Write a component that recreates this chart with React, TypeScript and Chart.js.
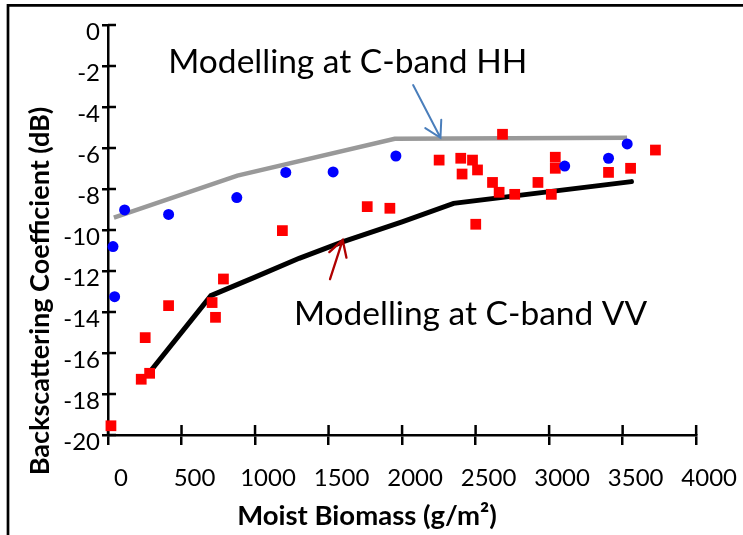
import React, { useEffect, useRef } from "react";
import { Chart, registerables } from "chart.js";
Chart.register(...registerables);

// Observed backscatter, C-band HH (blue dots)
const hhObsX = [34, 45, 113, 412, 876, 1209, 1531, 1958, 3106, 3404, 3531];
const hhObsY = [-10.81, -13.25, -9.02, -9.24, -8.42, -7.19, -7.17, -6.39, -6.88, -6.5, -5.8];

// Observed backscatter, C-band VV (red squares)
const vvObsX = [20, 226, 253, 283, 412, 708, 731, 785, 1186, 1763, 1917, 2252, 2399, 2408, 2479, 2501, 2513, 2615, 2660, 2683, 2766, 2924, 3015, 3042, 3042, 3404, 3554, 3723];
const vvObsY = [-19.55, -17.28, -15.25, -16.99, -13.69, -13.54, -14.26, -12.39, -10.03, -8.86, -8.94, -6.59, -6.5, -7.27, -6.59, -9.72, -7.07, -7.68, -8.16, -5.33, -8.26, -7.68, -8.26, -6.45, -6.99, -7.19, -6.99, -6.1];

// Model curves
const hhModelX = [40, 880, 1950, 3530];
const hhModelY = [-9.4, -7.35, -5.55, -5.5];
const vvModelX = [276, 700, 1000, 1300, 1600, 2000, 2350, 3560];
const vvModelY = [-17.0, -13.2, -12.3, -11.38, -10.57, -9.6, -8.7, -7.64];

// Tick values
const xTicks = [0, 500, 1000, 1500, 2000, 2500, 3000, 3500, 4000];
const yTicks = [0, -2, -4, -6, -8, -10, -12, -14, -16, -18, -20];

// Text
const hhLabel = "Modelling at C-band HH";
const vvLabel = "Modelling at C-band VV";
const xTitle = "Moist Biomass (g/m²)";
const yTitle = "Backscattering Coefficient (dB)";

// Annotation anchors (data coordinates)
const hhLabelAt = { x: 410, y: -2.36 };
const vvLabelAt = { x: 1265, y: -14.63 };
const hhArrow = { fromX: 2075, fromY: -2.93, toX: 2261, toY: -5.5 };
const vvArrow = { fromX: 1510, fromY: -12.4, toX: 1596, toY: -10.49 };

const FONT = "Lato, 'Open Sans', sans-serif";

function zip(xs: number[], ys: number[]) {
  return xs.map((x, i) => ({ x, y: ys[i] }));
}

const decorPlugin = {
  id: "decor",
  beforeDraw(chart: any) {
    const ctx = chart.ctx;
    ctx.save();
    ctx.fillStyle = "#fff";
    ctx.fillRect(0, 0, chart.width, chart.height);
    ctx.strokeStyle = "#000";
    ctx.lineWidth = 2.7;
    ctx.beginPath();
    ctx.moveTo(8, chart.height + 2);
    ctx.lineTo(8, 5.3);
    ctx.lineTo(chart.width + 2, 5.3);
    ctx.stroke();
    ctx.restore();
  },
  beforeDatasetsDraw(chart: any) {
    // inner half of the crossing tick marks
    const ctx = chart.ctx;
    const xs = chart.scales.x;
    const ys = chart.scales.y;
    const area = chart.chartArea;
    ctx.save();
    ctx.strokeStyle = "#000";
    ctx.lineWidth = 2.5;
    ctx.beginPath();
    xs.ticks.forEach((t: any) => {
      const px = xs.getPixelForValue(t.value);
      ctx.moveTo(px, area.bottom);
      ctx.lineTo(px, area.bottom - 10);
    });
    ys.ticks.forEach((t: any) => {
      const py = ys.getPixelForValue(t.value);
      ctx.moveTo(area.left, py);
      ctx.lineTo(area.left + 8, py);
    });
    ctx.stroke();
    ctx.restore();
  },
  afterDraw(chart: any) {
    const ctx = chart.ctx;
    const xs = chart.scales.x;
    const ys = chart.scales.y;
    ctx.save();
    // annotation labels
    ctx.fillStyle = "#000";
    ctx.font = `33.5px ${FONT}`;
    ctx.textAlign = "left";
    ctx.textBaseline = "alphabetic";
    ctx.fillText(hhLabel, xs.getPixelForValue(hhLabelAt.x), ys.getPixelForValue(hhLabelAt.y));
    ctx.fillText(vvLabel, xs.getPixelForValue(vvLabelAt.x), ys.getPixelForValue(vvLabelAt.y));

    const drawArrow = (a: any, color: string, w: number) => {
      const x1 = xs.getPixelForValue(a.fromX);
      const y1 = ys.getPixelForValue(a.fromY);
      const x2 = xs.getPixelForValue(a.toX);
      const y2 = ys.getPixelForValue(a.toY);
      const ang = Math.atan2(y1 - y2, x1 - x2);
      const len = 18;
      const half = (30 * Math.PI) / 180;
      ctx.strokeStyle = color;
      ctx.lineWidth = w;
      ctx.lineCap = "round";
      ctx.beginPath();
      ctx.moveTo(x1, y1);
      ctx.lineTo(x2, y2);
      ctx.moveTo(x2 + len * Math.cos(ang + half), y2 + len * Math.sin(ang + half));
      ctx.lineTo(x2, y2);
      ctx.lineTo(x2 + len * Math.cos(ang - half), y2 + len * Math.sin(ang - half));
      ctx.stroke();
    };
    drawArrow(hhArrow, "#4a7ebb", 2);
    drawArrow(vvArrow, "#b00000", 2.3);

    // axis titles
    ctx.fillStyle = "#000";
    ctx.font = `bold 27.5px ${FONT}`;
    ctx.textAlign = "center";
    ctx.textBaseline = "alphabetic";
    ctx.fillText(xTitle, 367, 525);
    ctx.font = `bold 27px ${FONT}`;
    ctx.translate(49, 291);
    ctx.rotate(-Math.PI / 2);
    ctx.fillText(yTitle, 0, 0);
    ctx.restore();
  },
};

export default function App() {
  const ref = useRef<HTMLCanvasElement | null>(null);
  useEffect(() => {
    if (!ref.current) return;
    const chart = new Chart(ref.current, {
      type: "scatter",
      data: {
        datasets: [
          {
            label: "HH observed",
            data: zip(hhObsX, hhObsY),
            pointStyle: "circle",
            pointRadius: 5.5,
            pointBackgroundColor: "#0000ff",
            pointBorderColor: "#0000ff",
            pointBorderWidth: 0,
            showLine: false,
            clip: false,
          },
          {
            label: "VV observed",
            data: zip(vvObsX, vvObsY),
            pointStyle: "rect",
            pointRadius: 7.6,
            pointBackgroundColor: "#ff0000",
            pointBorderColor: "#ff0000",
            pointBorderWidth: 0,
            showLine: false,
            clip: false,
          },
          {
            label: "HH model",
            data: zip(hhModelX, hhModelY),
            showLine: true,
            borderColor: "#999999",
            borderWidth: 4.5,
            pointRadius: 0,
            tension: 0,
            clip: false,
          },
          {
            label: "VV model",
            data: zip(vvModelX, vvModelY),
            showLine: true,
            borderColor: "#000000",
            borderWidth: 5,
            borderCapStyle: "round",
            pointRadius: 0,
            tension: 0,
            clip: false,
          },
        ],
      },
      options: {
        responsive: false,
        animation: false,
        devicePixelRatio: 1,
        layout: { padding: { top: 25, right: 46, left: 0, bottom: 0 } },
        plugins: { legend: { display: false }, tooltip: { enabled: false } },
        scales: {
          x: {
            type: "linear",
            min: 0,
            max: 4000,
            afterBuildTicks: (s: any) => {
              s.ticks = xTicks.map((v) => ({ value: v }));
            },
            afterFit: (s: any) => {
              s.height = 100;
            },
            grid: {
              drawOnChartArea: false,
              drawTicks: true,
              tickLength: 10,
              color: "#000",
              tickColor: "#000",
              lineWidth: 2.5,
              tickWidth: 2.5,
            },
            border: { display: true, color: "#000", width: 2.5 },
            ticks: {
              color: "#000",
              font: { family: FONT, size: 24 },
              padding: 19,
              labelOffset: 13,
              maxRotation: 0,
              autoSkip: false,
              callback: (v: any) => String(v),
            },
          },
          y: {
            type: "linear",
            min: -20,
            max: 0,
            afterBuildTicks: (s: any) => {
              s.ticks = yTicks.map((v) => ({ value: v }));
            },
            afterFit: (s: any) => {
              s.width = 108;
            },
            grid: {
              drawOnChartArea: false,
              drawTicks: true,
              tickLength: 6,
              color: "#000",
              tickColor: "#000",
              lineWidth: 2.5,
              tickWidth: 2.5,
            },
            border: { display: true, color: "#000", width: 2.5 },
            ticks: {
              color: "#000",
              font: { family: FONT, size: 24 },
              padding: 2,
              labelOffset: 7,
              autoSkip: false,
              callback: (v: any) => String(v),
            },
          },
        },
      },
      plugins: [decorPlugin],
    } as any);
    return () => chart.destroy();
  }, []);
  return (
    <div style={{ position: "fixed", left: 0, top: 0, width: 743, height: 535, background: "#fff" }}>
      <canvas ref={ref} width={743} height={535} style={{ display: "block" }} />
    </div>
  );
}
